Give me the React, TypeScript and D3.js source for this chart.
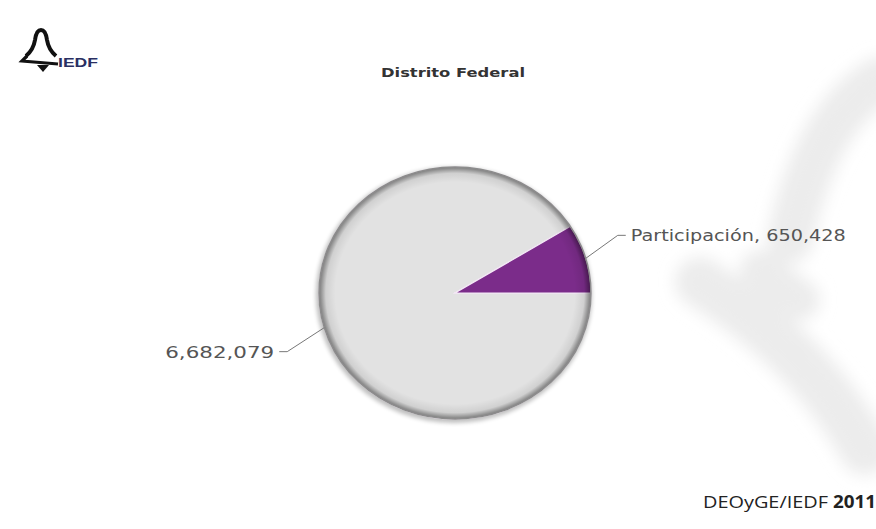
import React from "react";
import * as d3 from "d3";

const categories = ["Abstención", "Participación"];
const values = [6682079, 650428];
const labelTexts = ["6,682,079", "Participación, 650,428"];
const colors = ["#e2e2e2", "#7b2c8a"];
const title = "Distrito Federal";
const footer = "DEOyGE/IEDF";
const footerYear = "2011";

const W = 876;
const H = 529;
const cx = 455;
const cy = 293;
const R = 130;
const sx = 136 / R;
const sy = 126 / R;

export default function App() {
  const pie = d3
    .pie<number>()
    .sort(null)
    .startAngle(Math.PI / 2)
    .endAngle(Math.PI / 2 + 2 * Math.PI);
  const arcs = pie(values);
  const arc = d3.arc<d3.PieArcDatum<number>>().innerRadius(0).outerRadius(R);
  const edgeArc = d3.arc<d3.PieArcDatum<number>>().innerRadius(R).outerRadius(R);

  const toScreen = (p: [number, number]): [number, number] => [cx + p[0] * sx, cy + p[1] * sy];

  return (
    <svg
      width={W}
      height={H}
      style={{ position: "absolute", left: 0, top: 0, background: "#fff" }}
      fontFamily="DejaVu Sans, Verdana, sans-serif"
    >
      <defs>
        <filter id="blur" x="-30%" y="-30%" width="160%" height="160%">
          <feGaussianBlur stdDeviation="8" />
        </filter>
        <filter id="shadow" x="-10%" y="-10%" width="120%" height="120%">
          <feGaussianBlur stdDeviation="2" />
        </filter>
        <radialGradient id="rim" cx="0.5" cy="0.5" r="0.5">
          <stop offset="0" stopColor="#000" stopOpacity="0" />
          <stop offset="0.88" stopColor="#000" stopOpacity="0" />
          <stop offset="0.95" stopColor="#000" stopOpacity="0.08" />
          <stop offset="0.985" stopColor="#000" stopOpacity="0.35" />
          <stop offset="1" stopColor="#000" stopOpacity="0.45" />
        </radialGradient>
      </defs>

      {/* faint watermark */}
      <g filter="url(#blur)" fill="none" stroke="#ececec" strokeLinecap="round">
        <path d="M880,80 C830,110 805,170 790,240" strokeWidth={46} />
        <path d="M700,282 C760,320 820,370 865,450" strokeWidth={50} />
        <path d="M760,270 L800,300" strokeWidth={40} />
      </g>

      {/* logo */}
      <g>
        <path
          d="M26,56 C32,51 34,46 35,40 C36,33 38,30 41,30 C44,30 46,33 47,40 C48,46 50,51 56,56"
          fill="none"
          stroke="#111"
          strokeWidth={4}
        />
        <path d="M27,56 L22,61 L58,64" fill="none" stroke="#111" strokeWidth={3.2} />
        <path d="M37,65 L49,65 L43,72 Z" fill="#111" />
        <text x={58} y={67} fontSize="13" fontWeight="bold" fill="#2a2f62" fontFamily="Liberation Sans, Arial, sans-serif" textLength={40} lengthAdjust="spacingAndGlyphs">
          IEDF
        </text>
      </g>

      {/* title */}
      <text x={381} y={77} fontSize="13" fontWeight="bold" fill="#333" textLength={144} lengthAdjust="spacingAndGlyphs">
        {title}
      </text>

      {/* pie */}
      <g transform={`translate(${cx},${cy}) scale(${sx},${sy})`}>
        <circle r={R + 2} fill="#000" opacity="0.25" filter="url(#shadow)" transform="translate(-1,2)" />
        {arcs.map((a, i) => (
          <path key={categories[i]} d={arc(a) || ""} fill={colors[i]} stroke="#f4e8f6" strokeWidth={1.2} />
        ))}
        <circle r={R} fill="url(#rim)" />
        <circle r={R} fill="none" stroke="#8c8c8c" strokeWidth={1.4} />
      </g>

      {/* labels */}
      {arcs.map((a, i) => {
        const p0 = toScreen(edgeArc.centroid(a) as [number, number]);
        const right = p0[0] > cx;
        const down = p0[1] > cy;
        const p1: [number, number] = [p0[0] + (right ? 32 : -37), p0[1] + (down ? 24 : -23)];
        const p2: [number, number] = [p1[0] + (right ? 8 : -8), p1[1]];
        const tw = right ? 215 : 109;
        return (
          <g key={"l" + categories[i]}>
            <polyline
              points={[p0, p1, p2].map((p) => p.join(",")).join(" ")}
              fill="none"
              stroke="#777"
              strokeWidth={1}
            />
            <text
              x={right ? p2[0] + 5 : p2[0] - 5 - tw}
              y={p2[1] + 6}
              fontSize="15.5"
              fill="#555"
              textLength={tw}
              lengthAdjust="spacingAndGlyphs"
            >
              {labelTexts[i]}
            </text>
          </g>
        );
      })}

      {/* footer */}
      <g fill="#222" fontFamily="Open Sans, DejaVu Sans, sans-serif">
        <text x={703} y={508} fontSize="15.5" textLength={125} lengthAdjust="spacingAndGlyphs">
          {footer}
        </text>
        <text x={833} y={508} fontSize="17" fontWeight="bold" textLength={43} lengthAdjust="spacingAndGlyphs">
          {footerYear}
        </text>
      </g>
    </svg>
  );
}
